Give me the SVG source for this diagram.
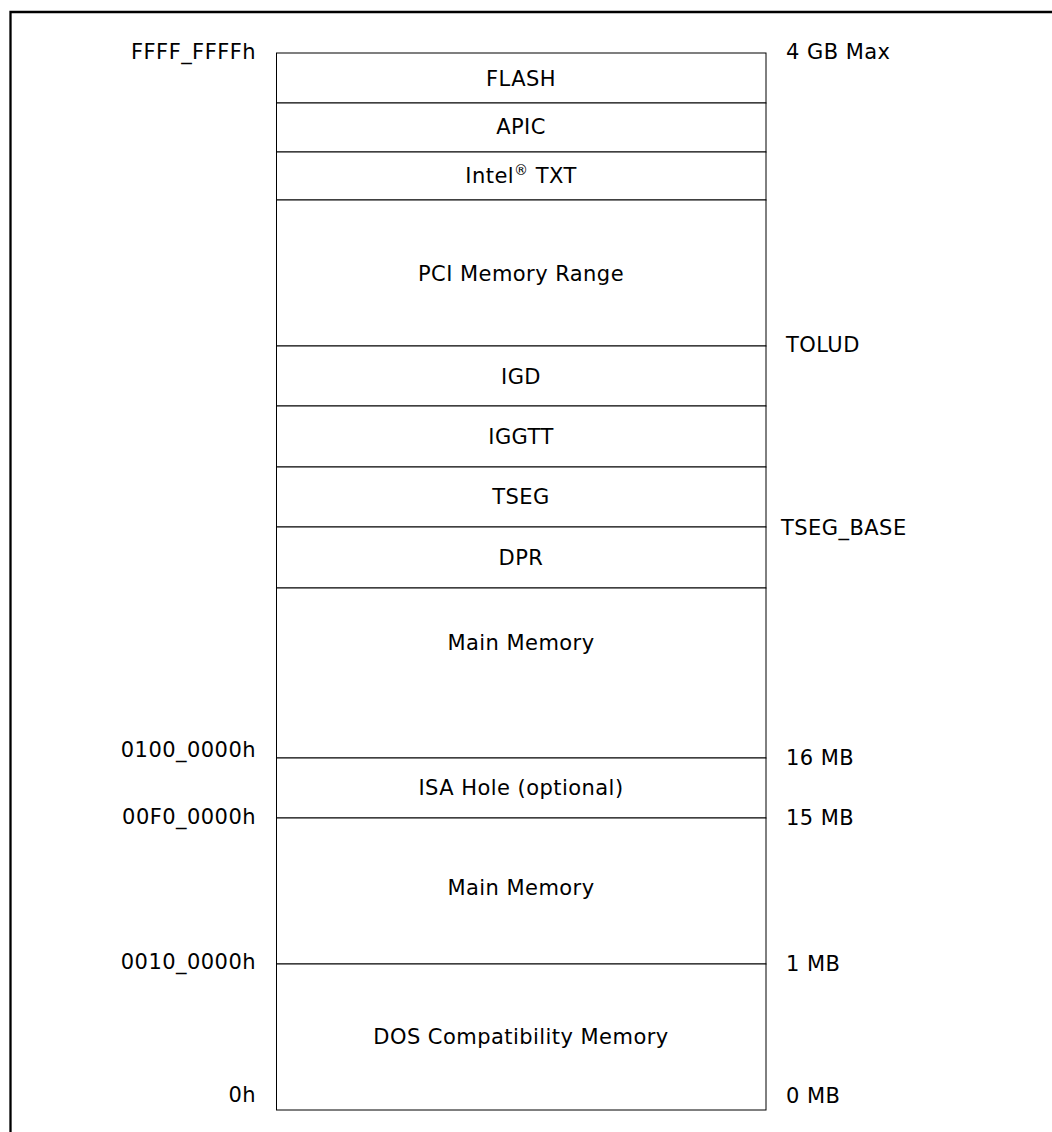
<svg xmlns="http://www.w3.org/2000/svg" width="1052" height="1132" viewBox="0 0 1052 1132">
<style>
text{font-family:"DejaVu Sans","Verdana",sans-serif;font-size:21px;fill:#000;letter-spacing:0.45px}
.c{text-anchor:middle}
.l{text-anchor:end}
.seg{fill:#fff;stroke:#000;stroke-width:1}
.frame{stroke:#000;stroke-width:2.3;fill:none}
</style>
<rect width="1052" height="1132" fill="#fff"/>
<path class="frame" d="M10.5 1132 V12 H1052"/>
<g id="nodes">
<g id="flash"><rect class="seg" x="276.5" y="53" width="489.5" height="50"/><text class="c" x="521" y="86">FLASH</text></g>
<g id="apic"><rect class="seg" x="276.5" y="103" width="489.5" height="49"/><text class="c" x="521" y="134">APIC</text></g>
<g id="txt"><rect class="seg" x="276.5" y="152" width="489.5" height="48"/><text class="c" x="521" y="183">Intel<tspan font-size="14" dy="-8">®</tspan><tspan dy="8"> TXT</tspan></text></g>
<g id="pci"><rect class="seg" x="276.5" y="200" width="489.5" height="146"/><text class="c" x="521" y="281">PCI Memory Range</text></g>
<g id="igd"><rect class="seg" x="276.5" y="346" width="489.5" height="60"/><text class="c" x="521" y="384">IGD</text></g>
<g id="iggtt"><rect class="seg" x="276.5" y="406" width="489.5" height="61"/><text class="c" x="521" y="444">IGGTT</text></g>
<g id="tseg"><rect class="seg" x="276.5" y="467" width="489.5" height="60"/><text class="c" x="521" y="504">TSEG</text></g>
<g id="dpr"><rect class="seg" x="276.5" y="527" width="489.5" height="61"/><text class="c" x="521" y="565">DPR</text></g>
<g id="main1"><rect class="seg" x="276.5" y="588" width="489.5" height="170"/><text class="c" x="521" y="650">Main Memory</text></g>
<g id="isa"><rect class="seg" x="276.5" y="758" width="489.5" height="60"/><text class="c" x="521" y="795">ISA Hole (optional)</text></g>
<g id="main2"><rect class="seg" x="276.5" y="818" width="489.5" height="146"/><text class="c" x="521" y="895">Main Memory</text></g>
<g id="dos"><rect class="seg" x="276.5" y="964" width="489.5" height="146"/><text class="c" x="521" y="1044">DOS Compatibility Memory</text></g>
</g>
<g id="labels">
<text class="l" x="256" y="59">FFFF_FFFFh</text>
<text class="l" x="256" y="757">0100_0000h</text>
<text class="l" x="256" y="824">00F0_0000h</text>
<text class="l" x="256" y="969">0010_0000h</text>
<text class="l" x="256" y="1102">0h</text>
<text x="786" y="59">4 GB Max</text>
<text x="786" y="352">TOLUD</text>
<text x="781" y="535">TSEG_BASE</text>
<text x="786" y="765">16 MB</text>
<text x="786" y="825">15 MB</text>
<text x="786" y="971">1 MB</text>
<text x="786" y="1103">0 MB</text>
</g>
<g id="connectors"/>
</svg>
